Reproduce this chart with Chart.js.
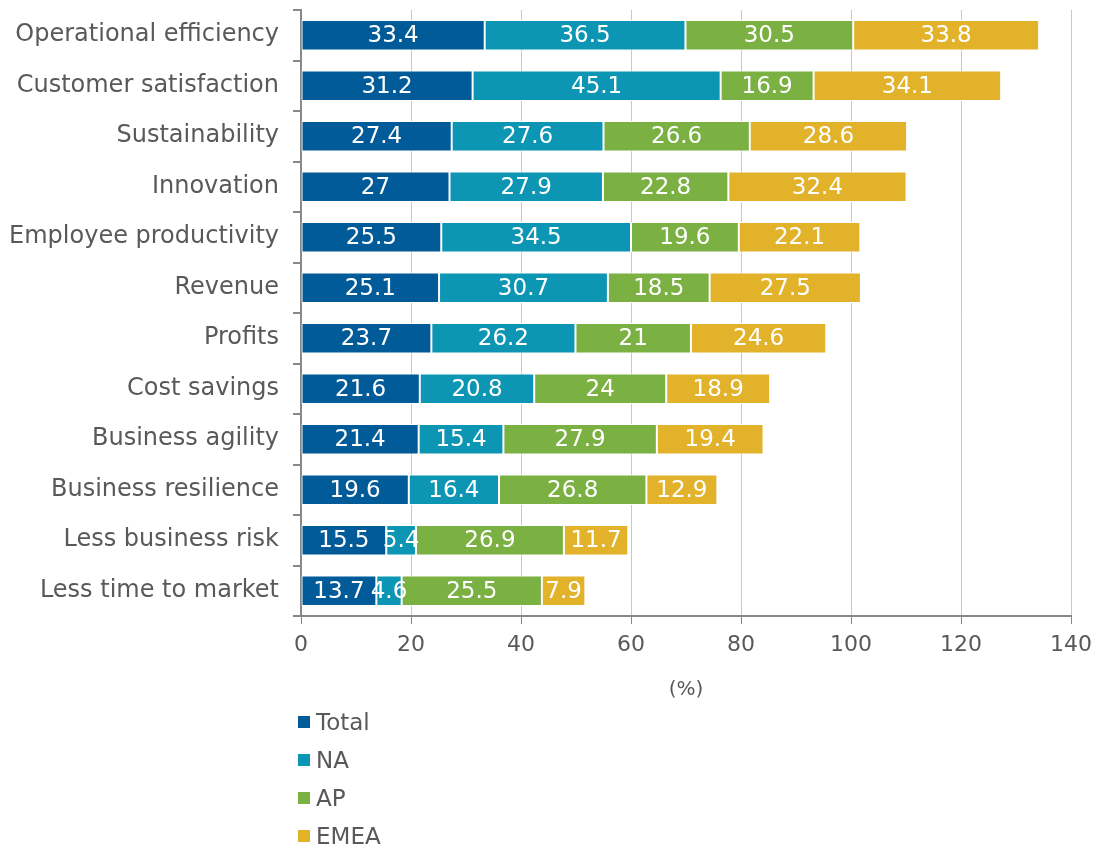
<!DOCTYPE html>
<html>
<head>
<meta charset="utf-8">
<script src="https://cdn.jsdelivr.net/npm/chart.js@4"></script>
<style>
  body { margin: 0; background: #fff; font-family: "DejaVu Sans", sans-serif; }
  #wrap { position: relative; width: 1097px; height: 710px; }
  #legend { position: absolute; left: 298px; top: 703px; color: #595959; font-size: 23px; }
  #legend .item { display: flex; align-items: center; height: 38px; }
  #legend .box { width: 12px; height: 12px; margin-right: 6px; }
</style>
</head>
<body>
<div id="wrap"><canvas id="chart"></canvas></div>
<div id="legend"></div>
<script>
var categories = ['Operational efficiency', 'Customer satisfaction', 'Sustainability', 'Innovation',
    'Employee productivity', 'Revenue', 'Profits', 'Cost savings', 'Business agility',
    'Business resilience', 'Less business risk', 'Less time to market'];
var total = [33.4, 31.2, 27.4, 27, 25.5, 25.1, 23.7, 21.6, 21.4, 19.6, 15.5, 13.7];
var na    = [36.5, 45.1, 27.6, 27.9, 34.5, 30.7, 26.2, 20.8, 15.4, 16.4, 5.4, 4.6];
var ap    = [30.5, 16.9, 26.6, 22.8, 19.6, 18.5, 21, 24, 27.9, 26.8, 26.9, 25.5];
var emea  = [33.8, 34.1, 28.6, 32.4, 22.1, 27.5, 24.6, 18.9, 19.4, 12.9, 11.7, 7.9];
var seriesNames = ['Total', 'NA', 'AP', 'EMEA'];
var colors = ['#005b98', '#0c96b3', '#7bb042', '#e2b22a'];

var fontFamily = '"DejaVu Sans", sans-serif';
var textColor = '#595959';

// draws the value in the middle of each segment
const valueLabels = {
    id: 'valueLabels',
    afterDatasetsDraw: function(chart) {
        var ctx = chart.ctx;
        ctx.save();
        ctx.font = '23px ' + fontFamily;
        ctx.fillStyle = '#fff';
        ctx.textAlign = 'center';
        ctx.textBaseline = 'middle';
        chart.data.datasets.forEach(function(ds, i) {
            chart.getDatasetMeta(i).data.forEach(function(bar, j) {
                var x = (bar.x + bar.base) / 2;
                ctx.fillText(String(ds.data[j]), x, bar.y + 1);
            });
        });
        ctx.restore();
    }
};

var datasets = [total, na, ap, emea].map(function(values, i) {
    return {
        label: seriesNames[i],
        data: values,
        backgroundColor: colors[i],
        borderColor: '#fff',
        borderWidth: 1,
        borderSkipped: false
    };
});

var chart = new Chart(document.getElementById('chart'), {
    type: 'bar',
    data: { labels: categories, datasets: datasets },
    options: {
        indexAxis: 'y',
        responsive: true,
        maintainAspectRatio: false,
        animation: false,
        categoryPercentage: 1,
        barPercentage: 0.6,
        layout: { padding: { top: 10, right: 26, left: 0, bottom: 0 } },
        plugins: {
            legend: { display: false },
            tooltip: { enabled: false }
        },
        scales: {
            x: {
                stacked: true,
                min: 0,
                max: 140,
                ticks: { stepSize: 20, color: textColor, font: { family: fontFamily, size: 22 }, padding: 8 },
                grid: { color: '#c8c8c8', lineWidth: 1, tickLength: 8, tickColor: '#888' },
                border: { color: '#888', width: 2 },
                title: { display: true, text: '(%)', color: textColor, font: { family: fontFamily, size: 20 }, padding: { top: 4, bottom: 8 } },
                afterFit: function(scale) {
                    scale.height = 94;
                    scale.paddingLeft = 0;
                    scale.paddingRight = 0;
                }
            },
            y: {
                stacked: true,
                ticks: { color: textColor, font: { family: fontFamily, size: 24, lineHeight: 1 }, padding: 14 },
                grid: { drawOnChartArea: false, tickLength: 8, color: '#888', lineWidth: 2 },
                border: { color: '#888', width: 2 },
                afterFit: function(scale) {
                    scale.width = 301;
                    scale.paddingTop = 0;
                    scale.paddingBottom = 0;
                }
            }
        }
    },
    plugins: [valueLabels]
});

var legend = document.getElementById('legend');
chart.data.datasets.forEach(function(ds) {
    var item = document.createElement('div');
    item.className = 'item';
    item.innerHTML = '<span class="box" style="background:' + ds.backgroundColor + '"></span>' + ds.label;
    legend.appendChild(item);
});
</script>
</body>
</html>
